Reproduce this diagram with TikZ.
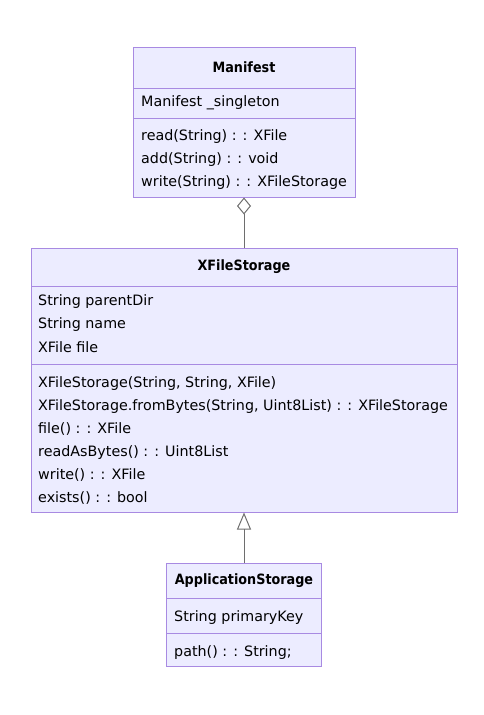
\documentclass[tikz,border=0pt]{standalone}
\usepackage{fontspec}
\setmainfont{DejaVu Sans}
\newfontfamily\titlefont{DejaVu Sans Condensed}
\usetikzlibrary{arrows.meta}
\definecolor{boxfill}{HTML}{ECECFF}
\definecolor{boxline}{HTML}{A88AE2}
\definecolor{relline}{RGB}{110,110,110}

\tikzset{
  umlbox/.style={draw=boxline,fill=boxfill,line width=1pt,inner sep=0pt},
  member/.style={anchor=west,inner sep=0pt,yshift=-1.5pt,font=\fontsize{14.3}{16}\selectfont},
  title/.style={inner sep=0pt,yshift=-1pt,font=\titlefont\fontsize{14.2}{16}\selectfont\bfseries}
}

\begin{document}
\begin{tikzpicture}[x=1pt,y=-1pt]
\useasboundingbox (0,0) rectangle (483,715);

%%% Manifest
\node[umlbox,minimum width=222pt,minimum height=150pt] (manifest) at (244,122) {};
\draw[boxline,line width=1pt] (133,88) -- (355,88);
\draw[boxline,line width=1pt] (133,118) -- (355,118);
\node[title] (manifestname) at (244,66) {Manifest};
\node[member] (singleton) at (141,101) {Manifest \_singleton};
\node[member] (mread) at (141,135) {read(String) : : XFile};
\node[member] (madd) at (141,158) {add(String) : : void};
\node[member] (mwrite) at (141,181) {write(String) : : XFileStorage};

%%% XFileStorage
\node[umlbox,minimum width=426pt,minimum height=264pt] (storage) at (244,380) {};
\draw[boxline,line width=1pt] (31,286) -- (457,286);
\draw[boxline,line width=1pt] (31,364) -- (457,364);
\node[title] (storagename) at (244,266) {XFileStorage};
\node[member] (parentdir) at (38,300) {String parentDir};
\node[member] (name) at (38,323) {String name};
\node[member] (file) at (38,346) {XFile file};
\node[member] (ctor) at (38,382) {XFileStorage(String, String, XFile)};
\node[member] (frombytes) at (38,405) {XFileStorage.fromBytes(String, Uint8List) : : XFileStorage};
\node[member] (sfile) at (38,428) {file() : : XFile};
\node[member] (readbytes) at (38,451) {readAsBytes() : : Uint8List};
\node[member] (swrite) at (38,474) {write() : : XFile};
\node[member] (exists) at (38,497) {exists() : : bool};

%%% ApplicationStorage
\node[umlbox,minimum width=155pt,minimum height=103pt] (appstorage) at (244,614.5) {};
\draw[boxline,line width=1pt] (166.5,598) -- (321.5,598);
\draw[boxline,line width=1pt] (166.5,633) -- (321.5,633);
\node[title] (appname) at (244,580) {ApplicationStorage};
\node[member] (primarykey) at (174,616) {String primaryKey};
\node[member] (path) at (174,651) {path() : : String;};

%%% relations
\draw[relline,line width=1pt,-{Diamond[open,length=17pt,width=14pt]}] (storage.north) -- (manifest.south);
\draw[relline,line width=1pt,-{Triangle[open,length=17pt,width=14pt]}] (appstorage.north) -- (storage.south);
\end{tikzpicture}
\end{document}
